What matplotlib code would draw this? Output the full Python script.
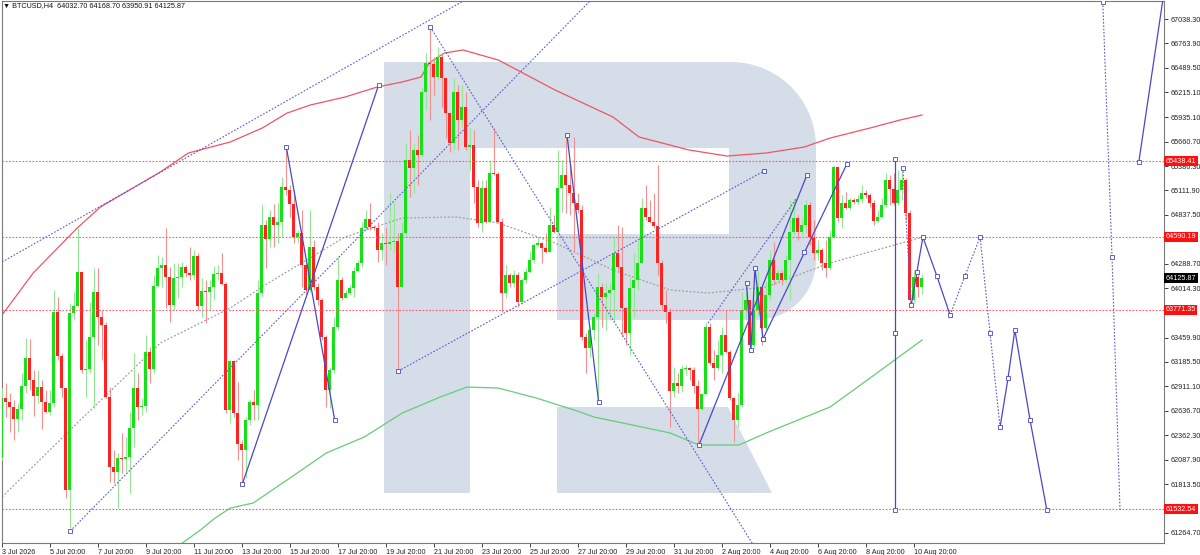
import numpy as np
import matplotlib
matplotlib.use('Agg')
import matplotlib.pyplot as plt
from matplotlib.patches import Polygon
from matplotlib.transforms import blended_transform_factory

plt.rcParams['font.family'] = ['Liberation Sans', 'DejaVu Sans']

# BTCUSD H4 candles, bar 0 = 3 Jul 20:00
first_open = 62107
closes = [
    62781, 62736, 62679, 62545, 62657, 62916, 63230, 62983, 62804, 62904,
    62736, 62624, 62724, 63747, 63253, 62893, 61747, 63735, 63815, 64197,
    63095, 63107, 63466, 63972, 63690, 63601, 62792, 62005, 61950, 62107,
    62096, 62118, 62444, 62893, 62679, 62690, 63298, 63107, 64039, 64241,
    64275, 64140, 63826, 64129, 64140, 64252, 64185, 64163, 64376, 63815,
    63983, 63972, 64027, 64174, 64185, 64061, 62646, 63197, 62612, 62264,
    62197, 62534, 62736, 62702, 63960, 64724, 64567, 64814, 64724, 64758,
    65151, 65117, 64960, 64589, 64634, 64275, 63994, 64477, 64027, 63882,
    63466, 62871, 63095, 63578, 64106, 63904, 63960, 64016, 64208, 64297,
    64690, 64792, 64701, 64690, 64443, 64522, 64511, 64534, 64545, 64027,
    64634, 65454, 65364, 65567, 65511, 66219, 66544, 66533, 66386, 66611,
    66375, 65982, 65645, 66219, 65904, 66049, 65600, 65623, 65151, 64746,
    65140, 64758, 65308, 65297, 64758, 63960, 64163, 64072, 64163, 63860,
    64106, 64197, 64331, 64500, 64522, 64466, 64420, 64724, 64645, 65140,
    65286, 65174, 65083, 64971, 64893, 63466, 63342, 63545, 63690, 64027,
    63915, 63960, 63994, 64409, 64252, 63792, 63511, 64016, 64106, 64297,
    64915, 64814, 64758, 64713, 64297, 63826, 63747, 62859, 62949, 62916,
    63107, 63118, 63095, 62916, 62657, 62826, 63578, 63174, 63118, 63264,
    63489, 63298, 62781, 62534, 62702, 63769, 63882, 63376, 63769, 64027,
    63567, 63938, 64331, 64106, 64185, 64106, 64331, 64645, 64802, 64645,
    64724, 64949, 64589, 64409, 64443, 64297, 64241, 64589, 65376, 64802,
    64971, 64915, 65005, 64983, 65016, 65083, 65061, 64971, 64769, 64814,
    64949, 65230, 65129, 64971, 65117, 65230, 64859, 63882, 64140, 64032.70,
    64125.87,
]
highs = [
    62893, 62949, 62837, 62758, 62724, 63061, 63455, 63444, 63095, 63095,
    62983, 62871, 62871, 63994, 63915, 63286, 62893, 63848, 63972, 64690,
    64197, 63432, 63860, 64241, 64241, 63769, 63635, 62904, 62197, 62163,
    62387, 62342, 62624, 63286, 63061, 62781, 63489, 63353, 64163, 64387,
    64364, 64690, 64252, 64297, 64297, 64309, 64275, 64477, 64443, 64409,
    64129, 64106, 64106, 64264, 64275, 64409, 64084, 63208, 63208, 62961,
    62309, 62567, 62758, 62871, 64106, 64960, 64780, 64893, 64960, 64971,
    65263, 65600, 65174, 65117, 64668, 64893, 64309, 64893, 64556, 64072,
    63904, 63489, 63129, 63690, 64364, 64140, 63994, 64050, 64252, 64331,
    64758, 64893, 64971, 64724, 64758, 64634, 64701, 65083, 64983, 64634,
    64758, 65645, 65791, 65645, 65735, 66274, 66656, 66948, 66611, 66723,
    66656, 66375, 65994, 66375, 66297, 66297, 66219, 65813, 65791, 65230,
    65230, 65230, 65454, 65813, 65320, 64802, 64275, 64185, 64219, 64197,
    64129, 64241, 64420, 64522, 64589, 64534, 64634, 64926, 64836, 65567,
    65454, 65735, 65420, 65713, 65083, 64949, 63511, 63578, 63735, 64185,
    64072, 64072, 64072, 64589, 64724, 64701, 63803, 64140, 64409, 64556,
    65028, 65174, 65005, 65083, 65398, 64331, 63994, 63792, 63129, 63061,
    63152, 63152, 63129, 63129, 62983, 62837, 63635, 63623, 63320, 63432,
    63578, 63769, 63320, 62792, 62837, 63972, 63994, 63882, 63882, 64219,
    63994, 64084, 64443, 64534, 64219, 64219, 64387, 65005, 65028, 64836,
    64802, 65005, 64983, 64780, 64556, 64466, 64556, 64668, 65398, 65320,
    65061, 65095, 65028, 65028, 65061, 65174, 65117, 65083, 65005, 64893,
    65028, 65308, 65286, 65308, 65342, 65320, 65252, 64893, 64219, 64197,
    64168.70,
]
lows = [
    62084, 62567, 62399, 62309, 62399, 62534, 62837, 62871, 62579, 62724,
    62433, 62612, 62590, 62679, 63208, 62792, 61657, 61320, 63657, 63803,
    63061, 62792, 63061, 62668, 63376, 63208, 62781, 61838, 61826, 61545,
    61938, 61950, 61713, 62230, 62534, 62590, 62624, 62949, 63061, 64027,
    64027, 63792, 63635, 63769, 63904, 64027, 64140, 64106, 64106, 63769,
    63690, 63623, 63769, 63882, 64106, 64050, 62612, 62500, 62567, 62084,
    61826, 61882, 62478, 62534, 62534, 63915, 64241, 64477, 64477, 64522,
    64589, 65061, 64814, 64522, 64522, 64027, 63938, 63972, 63994, 63826,
    63432, 62679, 62668, 63061, 63545, 63882, 63904, 63938, 63915, 64197,
    64252, 64668, 64668, 64668, 64309, 64331, 64275, 64443, 64409, 63095,
    64027, 64589, 65038, 65083, 65174, 65488, 66016, 65904, 66185, 66353,
    66049, 65701, 65545, 65567, 65567, 65825, 65567, 65342, 64971, 64701,
    64645, 64746, 64926, 65286, 64746, 63747, 63904, 64027, 64027, 63803,
    63837, 64072, 64185, 64297, 64477, 64297, 64409, 64420, 64634, 64634,
    64870, 64859, 64836, 64409, 64859, 63432, 63061, 63241, 63432, 62758,
    63578, 63545, 63657, 63635, 64219, 63466, 63376, 63264, 63690, 63994,
    64297, 64780, 64746, 64690, 64163, 63769, 63623, 62455, 62792, 62837,
    62848, 63039, 62983, 62837, 62276, 62646, 62815, 63152, 62983, 63095,
    63061, 63286, 62758, 62287, 62455, 62679, 63657, 63320, 63342, 63713,
    63376, 63545, 63882, 64050, 64072, 64050, 64072, 63882, 64612, 64556,
    64612, 64634, 64500, 64331, 64331, 64219, 64140, 64219, 64578, 64758,
    64690, 64904, 64893, 64960, 64960, 64971, 65028, 64926, 64724, 64758,
    64802, 64926, 64949, 64949, 64949, 65005, 64780, 63848, 63848, 63915,
    63950.91,
]

# moving averages, sampled (bar, price)
ma_red_bar = [0, 7.8, 18.8, 24.6, 39.6, 46.6, 57.1, 65.1, 71.3, 77.1, 85.8, 93.8, 100.1, 104.8,
              106.8, 110.6, 115.3, 124.1, 138.3, 152.8, 159.3, 171.8, 181.3, 191.1, 200.6,
              207.1, 217.1, 224.6, 230.1]
ma_red_px = [63713, 64185, 64690, 64926, 65320, 65533, 65657, 65814, 65982, 66072, 66162, 66274,
             66331, 66387, 66544, 66656, 66690, 66578, 66241, 65937, 65713, 65567, 65499, 65533,
             65600, 65701, 65814, 65904, 65960]
ma_green_bar = [45.1, 49.6, 53.3, 57.1, 62.8, 71.3, 81.1, 90.6, 100.1, 109.6, 116.3, 124.1, 133.6,
                143.1, 148.1, 157.6, 167.1, 174.3, 184.3, 191.1, 207.1, 217.1, 230.1]
ma_green_px = [61152, 61298, 61433, 61545, 61601, 61860, 62163, 62343, 62612, 62792, 62904, 62893,
               62781, 62646, 62567, 62478, 62388, 62253, 62253, 62388, 62680, 63006, 63432]
ma_gray_bar = [0, 19.6, 39.6, 57.1, 66.6, 85.8, 100.1, 113.6, 124.1, 138.3, 152.8, 167.1, 176.6,
               191.1, 207.1, 230.3]
ma_gray_px = [61669, 62534, 63399, 63792, 64073, 64590, 64803, 64814, 64747, 64522, 64219, 63994,
              63960, 64028, 64298, 64589]

# horizontal levels
levels = [65438.41, 64590.19, 63771.35, 61532.54]
last_price = 64125.87

# hand-drawn analysis objects (bar, price)
solid_lines = [
    [(60.1, 61815), (94.2, 66297)],
    [(71.1, 65600), (83.2, 62534)],
    [(141.3, 65735), (149.2, 62736)],
    [(174.3, 62253), (201.3, 65286)],
    [(190.3, 63444), (211.3, 65410)],
    [(186.2, 64073), (187.3, 63320), (188.3, 64241), (190.3, 63444)],
    [(223.3, 65466), (223.3, 63511), (223.3, 61523)],
    [(227.4, 63825), (228.8, 64196), (230.3, 64589), (233.8, 64151), (237.1, 63713)],
    [(249.6, 62455), (251.6, 63006), (253.3, 63545), (257.1, 62534), (261.3, 61523)],
    [(284.3, 65432), (290.6, 67340)],
]
dotted_lines = [
    [(0, 64309), (115.8, 67252)],
    [(17.1, 61287), (147.3, 67252)],
    [(99.1, 63084), (190.6, 65331)],
    [(107.1, 66948), (187.6, 61152)],
    [(176.6, 63623), (198.6, 65016)],
    [(225.3, 65365), (227.4, 63825)],
    [(237.1, 63713), (240.8, 64151), (244.6, 64589), (247.1, 63511), (249.6, 62455)],
    [(275.3, 67229), (277.6, 64365), (279.6, 61523)],
]
extra_marks = [(200.6, 64421)]

xtick_bars = list(range(0, 229, 12))
xtick_labels = ['3 Jul 2026', '5 Jul 20:00', '7 Jul 20:00', '9 Jul 20:00', '11 Jul 20:00',
                '13 Jul 20:00', '15 Jul 20:00', '17 Jul 20:00', '19 Jul 20:00', '21 Jul 20:00',
                '23 Jul 20:00', '25 Jul 20:00', '27 Jul 20:00', '29 Jul 20:00', '31 Jul 20:00',
                '2 Aug 20:00', '4 Aug 20:00', '6 Aug 20:00', '8 Aug 20:00', '10 Aug 20:00']
ytick_vals = [67038.30, 66763.90, 66489.50, 66215.10, 65935.10, 65660.70, 65386.30, 65111.90,
              64837.50, 64563.10, 64288.70, 64014.30, 63739.90, 63459.90, 63185.50, 62911.10,
              62636.70, 62362.30, 62087.90, 61813.50, 61539.10, 61264.70]
# these scale labels sit fully under the red level tags
hidden_ticks = [64563.10, 63739.90, 61539.10]

W, H = 1200, 555
fig = plt.figure(figsize=(W / 100, H / 100), dpi=100)
ax = fig.add_axes([2 / W, 12 / H, 1162 / W, 542 / H])
ax.set_xlim(0.075, 290.6)
ax.set_ylim(61152.2, 67240.5)


def px2ax(x, y):
    return ((x - 2) / 1162, (543 - y) / 542)


# watermark logo
logo_col = '#d5dde8'
stem = [(384, 62), (470, 62), (470, 493), (384, 493)]
th = np.linspace(np.pi / 2, 0, 20)
arc1 = [(731 + 85 * np.cos(t), 147 - 85 * np.sin(t)) for t in th]
th2 = np.linspace(0, -np.pi / 2, 20)
arc2 = [(756 + 60 * np.cos(t), 260 - 60 * np.sin(t)) for t in th2]
bowl = [(470, 62)] + arc1 + arc2 + [(557, 320), (557, 234), (729, 234), (729, 148), (470, 148)]
leg = [(557, 407), (728, 407), (772, 493), (557, 493)]
for shape in (stem, bowl, leg):
    ax.add_patch(Polygon([px2ax(x, y) for x, y in shape], closed=True, transform=ax.transAxes,
                         fc=logo_col, ec='none', zorder=0))

# moving averages
ax.plot(ma_red_bar, ma_red_px, color='#ee5566', lw=0.9, zorder=2)
ax.plot(ma_green_bar, ma_green_px, color='#66cc77', lw=0.9, zorder=2)
ax.plot(ma_gray_bar, ma_gray_px, color='#a0a0a0', lw=0.9, ls=(0, (1.5, 1.5)), zorder=2)

# candles
c = np.array(closes, dtype=float)
o = np.r_[first_open, c[:-1]]
hi = np.maximum(np.array(highs, dtype=float), np.maximum(o, c))
lo = np.minimum(np.array(lows, dtype=float), np.minimum(o, c))
x = np.arange(len(c))
up = c >= o
body_col = np.where(up, '#18e018', '#ff2222')
wick_col = np.where(up, '#95e695', '#f39090')
ax.vlines(x, lo, hi, colors=wick_col, lw=0.8, zorder=3)
height = np.maximum(np.abs(c - o), 9)
ax.bar(x, height, bottom=np.minimum(o, c), width=0.75, color=body_col, lw=0, zorder=4)

# levels
for lv in levels:
    ax.axhline(lv, color='#ff5a70', lw=0.8, ls=(0, (1.5, 1.5)), zorder=5)

# analysis drawings
blue = '#4848c8'
for seg in dotted_lines:
    bx, by = zip(*seg)
    ax.plot(bx, by, color='#5a5ad0', lw=0.8, ls=(0, (1.5, 1.5)), zorder=6)
for seg in solid_lines:
    bx, by = zip(*seg)
    ax.plot(bx, by, color=blue, lw=0.9, zorder=6)
mark_pts = [p for seg in solid_lines[:-1] for p in seg] + [solid_lines[-1][0]]
mark_pts += [dotted_lines[1][0], dotted_lines[2][0], dotted_lines[2][1], dotted_lines[3][0],
             dotted_lines[5][0]] + dotted_lines[6][1:4] + dotted_lines[7][:2] + extra_marks
mx, my = zip(*mark_pts)
ax.plot(mx, my, ls='none', marker='s', ms=2.3, mfc='white', mec=blue, mew=0.6, zorder=7)

# axes styling
for sp in ax.spines.values():
    sp.set_color('#7a7a7a')
    sp.set_linewidth(0.8)
ax.yaxis.tick_right()
ax.set_yticks(ytick_vals)
ax.set_yticklabels(['' if v in hidden_ticks else f'{v:.2f}' for v in ytick_vals])
ax.tick_params(axis='y', length=3, width=0.6, pad=1.5, labelsize=5.2, colors='#222222')
ax.set_xticks(xtick_bars)
ax.set_xticklabels(xtick_labels)
ax.tick_params(axis='x', length=3, width=0.6, pad=1, labelsize=5.2, colors='#222222')
for lab in ax.get_xticklabels():
    lab.set_horizontalalignment('left')

tr = blended_transform_factory(ax.transAxes, ax.transData)
for lv in levels:
    ax.text(1.0015, lv, f'{lv:.2f}', transform=tr, ha='left', va='center', fontsize=5.2,
            color='white', zorder=10, clip_on=False,
            bbox=dict(boxstyle='square,pad=0.2', fc='#ff1010', ec='none'))
ax.text(1.0015, last_price, f'{last_price:.2f}', transform=tr, ha='left', va='center',
        fontsize=5.2, color='white', zorder=10, clip_on=False,
        bbox=dict(boxstyle='square,pad=0.2', fc='#000000', ec='none'))

fig.text(3 / W, 1 - 6 / H, '\u25bc BTCUSD,H4  64032.70 64168.70 63950.91 64125.87',
         fontsize=5.2, va='center', ha='left', color='#111111')

fig.savefig('out.png', dpi=100, facecolor='white')
